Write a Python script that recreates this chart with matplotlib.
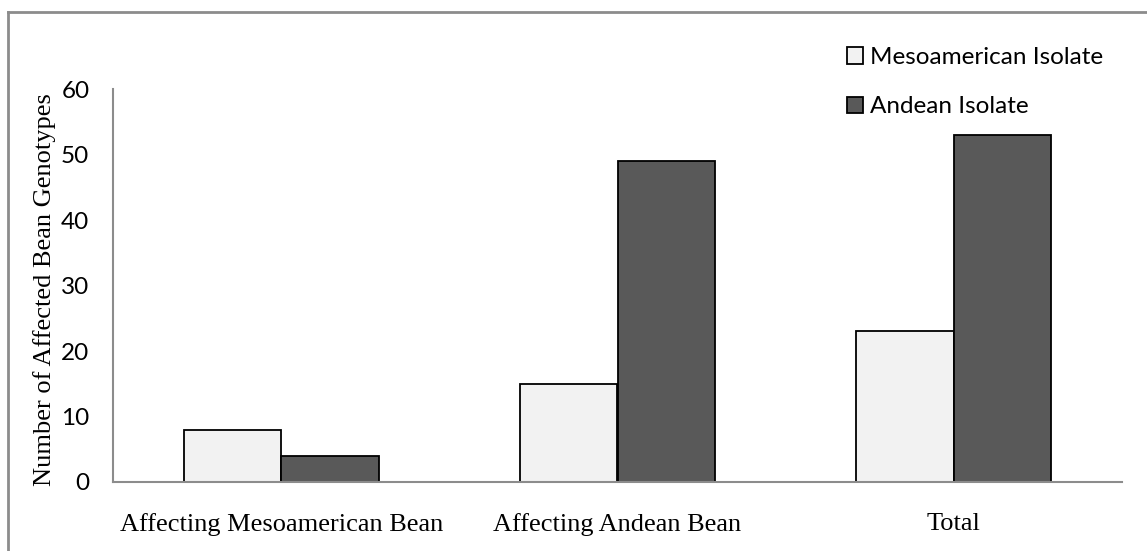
import matplotlib
matplotlib.use("Agg")
import matplotlib.pyplot as plt
from matplotlib.lines import Line2D
import numpy as np

categories = ["Affecting Mesoamerican Bean", "Affecting Andean Bean", "Total"]
meso_values = [8, 15, 23]
andean_values = [4, 49, 53]
series_names = ["Mesoamerican Isolate", "Andean Isolate"]
y_ticks = [0, 10, 20, 30, 40, 50, 60]

fig = plt.figure(figsize=(11.47, 5.51), dpi=100)
ax = fig.add_axes([113/1147, 69/551, (1122-113)/1147, (482-89)/551])

x = np.arange(len(categories))
w = 0.29
ax.bar(x - w/2, meso_values, w, color="#f2f2f2", edgecolor="black", linewidth=1.3, label=series_names[0])
ax.bar(x + w/2, andean_values, w, color="#595959", edgecolor="black", linewidth=1.3, label=series_names[1])

ax.set_xlim(-0.5, 2.5)
ax.set_ylim(0, 60)
ax.set_yticks(y_ticks)
ax.set_yticklabels([str(v) for v in y_ticks], fontfamily="Lato", fontsize=17.5)
ax.set_xticks(x)
ax.set_xticklabels(categories, fontfamily="Liberation Serif", fontsize=19)
ax.tick_params(axis="y", length=0, pad=17)
ax.tick_params(axis="x", length=0, pad=22)
for s in ["top", "right"]:
    ax.spines[s].set_visible(False)
for s in ["left", "bottom"]:
    ax.spines[s].set_color("#8c8c8c")
    ax.spines[s].set_linewidth(1.5)

ax.set_ylabel("Number of Affected Bean Genotypes", fontfamily="Liberation Serif", fontsize=19)
ax.yaxis.set_label_coords(-57/1009, 0.49)

leg = ax.legend(loc="upper left", bbox_to_anchor=(847/1147, 1 - 47/551), bbox_transform=fig.transFigure,
                frameon=False, prop={"family": "Lato", "size": 17.5}, handlelength=0.66, handleheight=0.66,
                handletextpad=0.3, labelspacing=1.17, borderaxespad=0, borderpad=0)

# outer frame (top & left visible)
fig.add_artist(Line2D([8/1147, 1.0], [1 - 12/551, 1 - 12/551], transform=fig.transFigure, color="#8c8c8c", lw=2))
fig.add_artist(Line2D([8/1147, 8/1147], [0, 1 - 12/551], transform=fig.transFigure, color="#8c8c8c", lw=2))

fig.savefig("out.png", dpi=100)
